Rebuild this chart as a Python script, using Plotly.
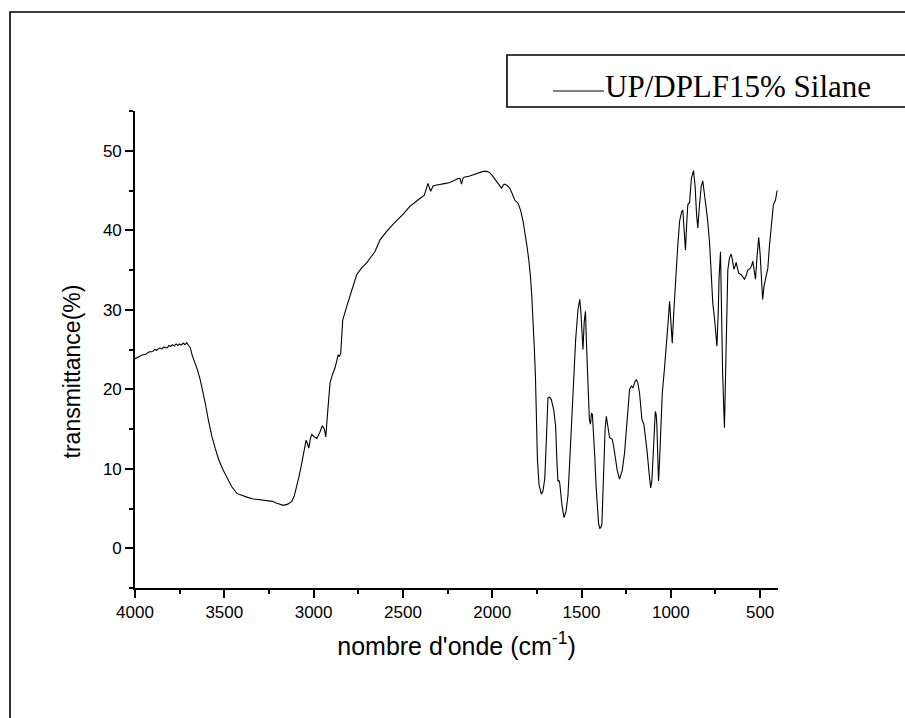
import plotly.graph_objects as go

# ---- data ----
wavenumber = [
    4000, 3980, 3960, 3940, 3920, 3900, 3890, 3880, 3860, 3850, 3840, 3820, 3810, 3800,
    3790, 3780, 3770, 3760, 3750, 3740, 3730, 3720, 3710, 3700, 3690, 3680, 3663, 3650,
    3635, 3620, 3607, 3590, 3570, 3550, 3532, 3510, 3486, 3460, 3430, 3400, 3370, 3337,
    3300, 3253, 3230, 3206, 3185, 3169, 3145, 3122, 3108, 3094, 3080, 3066, 3050, 3042,
    3035, 3027, 3018, 3010, 2995, 2982, 2965, 2951, 2940, 2932, 2920, 2908, 2895, 2880,
    2862, 2855, 2848, 2837, 2815, 2796, 2778, 2759, 2730, 2703, 2680, 2657, 2628, 2590,
    2545, 2500, 2461, 2430, 2405, 2380, 2360, 2345, 2330, 2310, 2293, 2260, 2237, 2210,
    2191, 2180, 2172, 2163, 2153, 2130, 2107, 2080, 2051, 2030, 2014, 2000, 1986, 1965,
    1948, 1938, 1930, 1915, 1902, 1888, 1874, 1855, 1840, 1827, 1815, 1805, 1795, 1786,
    1778, 1771, 1764, 1758, 1752, 1747, 1738, 1730, 1725, 1716, 1706, 1697, 1688, 1678,
    1669, 1655, 1645, 1638, 1632, 1626, 1622, 1610, 1598, 1587, 1576, 1567, 1557, 1545,
    1533, 1520, 1510, 1503, 1496, 1492, 1485, 1478, 1472, 1464, 1456, 1450, 1444, 1439,
    1432, 1426, 1419, 1413, 1405, 1398, 1392, 1386, 1380, 1376, 1368, 1361, 1352, 1343,
    1335, 1328, 1320, 1315, 1300, 1287, 1272, 1259, 1245, 1231, 1220, 1212, 1200, 1193,
    1185, 1175, 1167, 1162, 1151, 1142, 1132, 1122, 1113, 1106, 1100, 1092, 1087, 1082,
    1078, 1073, 1069, 1064, 1059, 1048, 1036, 1026, 1015, 1007, 1000, 992, 984, 974,
    962, 951, 940, 933, 926, 918, 912, 905, 895, 885, 873, 864, 856, 849,
    842, 830, 821, 812, 802, 795, 783, 774, 765, 755, 748, 742, 735, 730,
    722, 716, 710, 700, 694, 688, 681, 672, 662, 655, 647, 640, 634, 627,
    620, 606, 596, 588, 578, 569, 556, 547, 541, 534, 526, 518, 508, 500,
    493, 486, 478, 470, 457, 448, 439, 432, 426, 414, 405,
]
transmittance = [
    23.85, 24.1, 24.3, 24.4, 24.7, 24.75, 25.0, 24.9, 25.2, 25.05, 25.3, 25.2, 25.5, 25.4,
    25.6, 25.45, 25.7, 25.5, 25.7, 25.55, 25.8, 25.6, 25.85, 25.5, 25.2, 24.3, 23.3, 22.4,
    21.2, 19.7, 18.3, 16.2, 14.1, 12.5, 11.2, 10.0, 8.9, 7.8, 6.9, 6.6, 6.4, 6.2,
    6.1, 6.0, 5.9, 5.65, 5.45, 5.4, 5.55, 5.9, 6.6, 7.8, 9.2, 10.75, 12.5, 13.6,
    13.2, 12.6, 13.8, 14.3, 14.0, 13.8, 14.6, 15.4, 15.0, 14.0, 17.5, 20.8, 21.8, 22.7,
    24.35, 24.1, 24.6, 28.7, 30.4, 31.7, 33.0, 34.4, 35.3, 35.9, 36.6, 37.3, 38.8, 39.9,
    41.0, 42.0, 43.0, 43.6, 44.0, 44.4, 45.9, 44.9, 45.6, 45.7, 45.8, 45.9, 46.0, 46.3,
    46.5, 46.5, 45.8, 46.6, 46.7, 46.8, 46.95, 47.2, 47.4, 47.4, 47.25, 46.9, 46.5, 45.8,
    45.3, 45.7, 45.8, 45.6, 45.3, 44.6, 43.8, 43.4, 42.4, 41.1, 39.6, 37.95, 36.2, 34.2,
    31.5, 28.7, 25.0, 21.6, 16.0, 11.2, 8.0, 7.0, 6.8, 7.2, 8.7, 13.5, 18.9, 19.0,
    18.7, 17.3, 15.35, 11.0, 8.45, 8.5, 8.2, 5.5, 3.85, 4.6, 6.6, 10.5, 15.35, 21.0,
    26.2, 30.0, 31.3, 29.5, 25.5, 25.0, 28.5, 29.8, 25.5, 19.5, 16.2, 15.6, 17.0, 16.8,
    14.5, 11.6, 8.0, 5.3, 3.2, 2.5, 2.6, 3.0, 7.0, 11.2, 15.0, 16.6, 15.2, 13.9,
    13.8, 13.7, 12.8, 12.0, 9.8, 8.7, 9.8, 12.0, 15.5, 20.0, 20.4, 20.2, 21.0, 21.2,
    20.8, 19.5, 17.5, 16.2, 15.6, 14.0, 12.0, 9.5, 7.6, 8.5, 11.2, 15.0, 17.2, 16.8,
    15.35, 11.5, 8.45, 10.5, 13.3, 19.5, 22.5, 25.0, 28.5, 31.05, 29.0, 25.8, 29.5, 33.8,
    37.8, 41.1, 42.3, 42.55, 40.5, 37.5, 40.5, 43.2, 43.5, 46.5, 47.5, 45.5, 42.0, 40.3,
    42.5, 45.5, 46.2, 44.8, 43.0, 41.5, 38.4, 34.5, 30.8, 28.8, 27.0, 25.4, 29.5, 34.0,
    37.3, 30.0, 22.0, 15.15, 22.0, 30.0, 35.0, 36.5, 37.0, 36.2, 35.1, 35.5, 35.95, 35.2,
    34.6, 34.4, 34.0, 33.85, 34.3, 35.0, 35.2, 35.6, 36.1, 35.0, 33.85, 36.5, 39.1, 37.0,
    33.0, 31.3, 33.0, 34.0, 35.2, 38.0, 40.5, 42.0, 43.2, 43.8, 45.0,
]
series_name = "UP/DPLF15% Silane"
x_title = "nombre d'onde (cm<sup>-1</sup>)"
y_title = "transmittance(%)"
x_tick_values = [4000, 3500, 3000, 2500, 2000, 1500, 1000, 500]
x_tick_labels = ["4000", "3500", "3000", "2500", "2000", "1500", "1000", "500"]
y_tick_values = [0, 10, 20, 30, 40, 50]
y_tick_labels = ["0", "10", "20", "30", "40", "50"]

fig = go.Figure()
fig.add_trace(go.Scatter(
    x=wavenumber, y=transmittance, mode="lines", name=series_name,
    line=dict(color="black", width=1.1), showlegend=False,
))

sans = "Liberation Sans, Arial, sans-serif"
serif = "Liberation Serif, Times New Roman, serif"

fig.update_layout(
    width=905, height=718,
    margin=dict(l=135, r=126.5, t=111, b=129.5, autoexpand=False),
    paper_bgcolor="white", plot_bgcolor="white",
    font=dict(family=sans, color="black", size=17),
    xaxis=dict(
        range=[4000, 400], tickmode="array", tickvals=x_tick_values, ticktext=x_tick_labels,
        showline=True, linecolor="black", linewidth=1.6, showgrid=False, zeroline=False,
        ticks="outside", ticklen=8, tickwidth=1.6, tickcolor="black",
        minor=dict(dtick=250, tick0=0, ticks="outside", ticklen=4, tickwidth=1.6, tickcolor="black", showgrid=False),
        tickfont=dict(family=sans, size=17, color="black"),
        title=dict(text=x_title, font=dict(family=sans, size=25, color="black"), standoff=16),
    ),
    yaxis=dict(
        range=[-5, 55], tickmode="array", tickvals=y_tick_values, ticktext=y_tick_labels,
        showline=True, linecolor="black", linewidth=1.6, showgrid=False, zeroline=False,
        ticks="outside", ticklen=8, tickwidth=1.6, tickcolor="black",
        minor=dict(dtick=5, tick0=0, ticks="outside", ticklen=4, tickwidth=1.6, tickcolor="black", showgrid=False),
        tickfont=dict(family=sans, size=17, color="black"),
    ),
)

# y-axis title placed as in the reference (slightly below the axis centre)
fig.add_annotation(xref="paper", yref="paper", x=-0.098, y=0.454, xanchor="center", yanchor="middle",
                   text=y_title, textangle=-90, showarrow=False,
                   font=dict(family=sans, size=23, color="black"))

# outer frame (extends beyond the right and bottom edges)
fig.add_shape(type="rect", xref="paper", yref="paper", x0=-0.1944, x1=1.4, y0=-0.5, y1=1.2075,
              line=dict(color="black", width=1.6), fillcolor="rgba(0,0,0,0)", layer="below")
# legend box
fig.add_shape(type="rect", xref="paper", yref="paper", x0=0.5785, x1=1.4, y0=1.0084, y1=1.1174,
              line=dict(color="black", width=1.6), fillcolor="rgba(0,0,0,0)")
fig.add_shape(type="line", xref="paper", yref="paper", x0=0.650, x1=0.7294, y0=1.0419, y1=1.0419,
              line=dict(color="black", width=1.2))
fig.add_annotation(xref="paper", yref="paper", x=0.7285, y=1.052, xanchor="left", yanchor="middle",
                   text=series_name, showarrow=False, font=dict(family=serif, size=31, color="black"))

# remove the default page margin so the 905x718 figure fills the window exactly
fig.write_html("out.html",
               config={"displayModeBar": False},
               post_script="document.body.style.margin='0';document.body.style.overflow='hidden';")
